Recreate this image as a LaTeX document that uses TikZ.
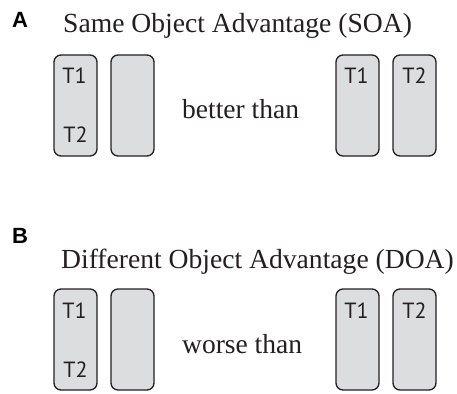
\documentclass[tikz,border=0pt]{standalone}
\usepackage{fontspec}
\setmainfont{Liberation Serif}
\newfontfamily\labfont{PT Sans}
\newfontfamily\panfont{Liberation Sans}
\definecolor{boxfill}{HTML}{DCDDDF}
\definecolor{boxline}{HTML}{231F20}
\begin{document}
\begin{tikzpicture}[x=1pt,y=-1pt,
  objbox/.style={draw=boxline,fill=boxfill,line width=1.3pt,rounded corners=7pt,minimum width=43pt,minimum height=101pt,inner sep=0pt},
  tlab/.style={font=\labfont\fontsize{22}{22}\selectfont,text=boxline,inner sep=0pt},
  title/.style={font=\fontsize{27.6}{30}\selectfont,anchor=base west,inner sep=0pt,text=boxline},
  cmp/.style={font=\fontsize{27.5}{30}\selectfont,anchor=base west,inner sep=0pt,text=boxline},
  panel/.style={font=\panfont\bfseries\fontsize{22}{22}\selectfont,anchor=base west,inner sep=0pt}]
\useasboundingbox (0,0) rectangle (457,393);
% Panel A
\node[panel] (pA) at (12,28) {A};
\node[title] (tA) at (63,33) {Same Object Advantage (SOA)};
\node[objbox] (a1) at (75.5,105.5) {};
\node[objbox] (a2) at (132.5,105.5) {};
\node[objbox] (a3) at (357.5,105.5) {};
\node[objbox] (a4) at (414.5,105.5) {};
\node[tlab] (a1t1) at (74.5,75.5) {T1};
\node[tlab] (a1t2) at (75.5,135) {T2};
\node[tlab] (a3t1) at (356.5,75.5) {T1};
\node[tlab] (a4t2) at (414.5,75.5) {T2};
\node[cmp] (cA) at (182,118) {better than};
% Panel B
\node[panel] (pB) at (12,243) {B};
\node[title] (tB) at (61,268) {Different Object Advantage (DOA)};
\node[objbox] (b1) at (75.5,339.5) {};
\node[objbox] (b2) at (132.5,339.5) {};
\node[objbox] (b3) at (357.5,339.5) {};
\node[objbox] (b4) at (414.5,339.5) {};
\node[tlab] (b1t1) at (74.5,311) {T1};
\node[tlab] (b1t2) at (75.5,370) {T2};
\node[tlab] (b3t1) at (356.5,311) {T1};
\node[tlab] (b4t2) at (414.5,311) {T2};
\node[cmp] (cB) at (182,353) {worse than};
\end{tikzpicture}
\end{document}
